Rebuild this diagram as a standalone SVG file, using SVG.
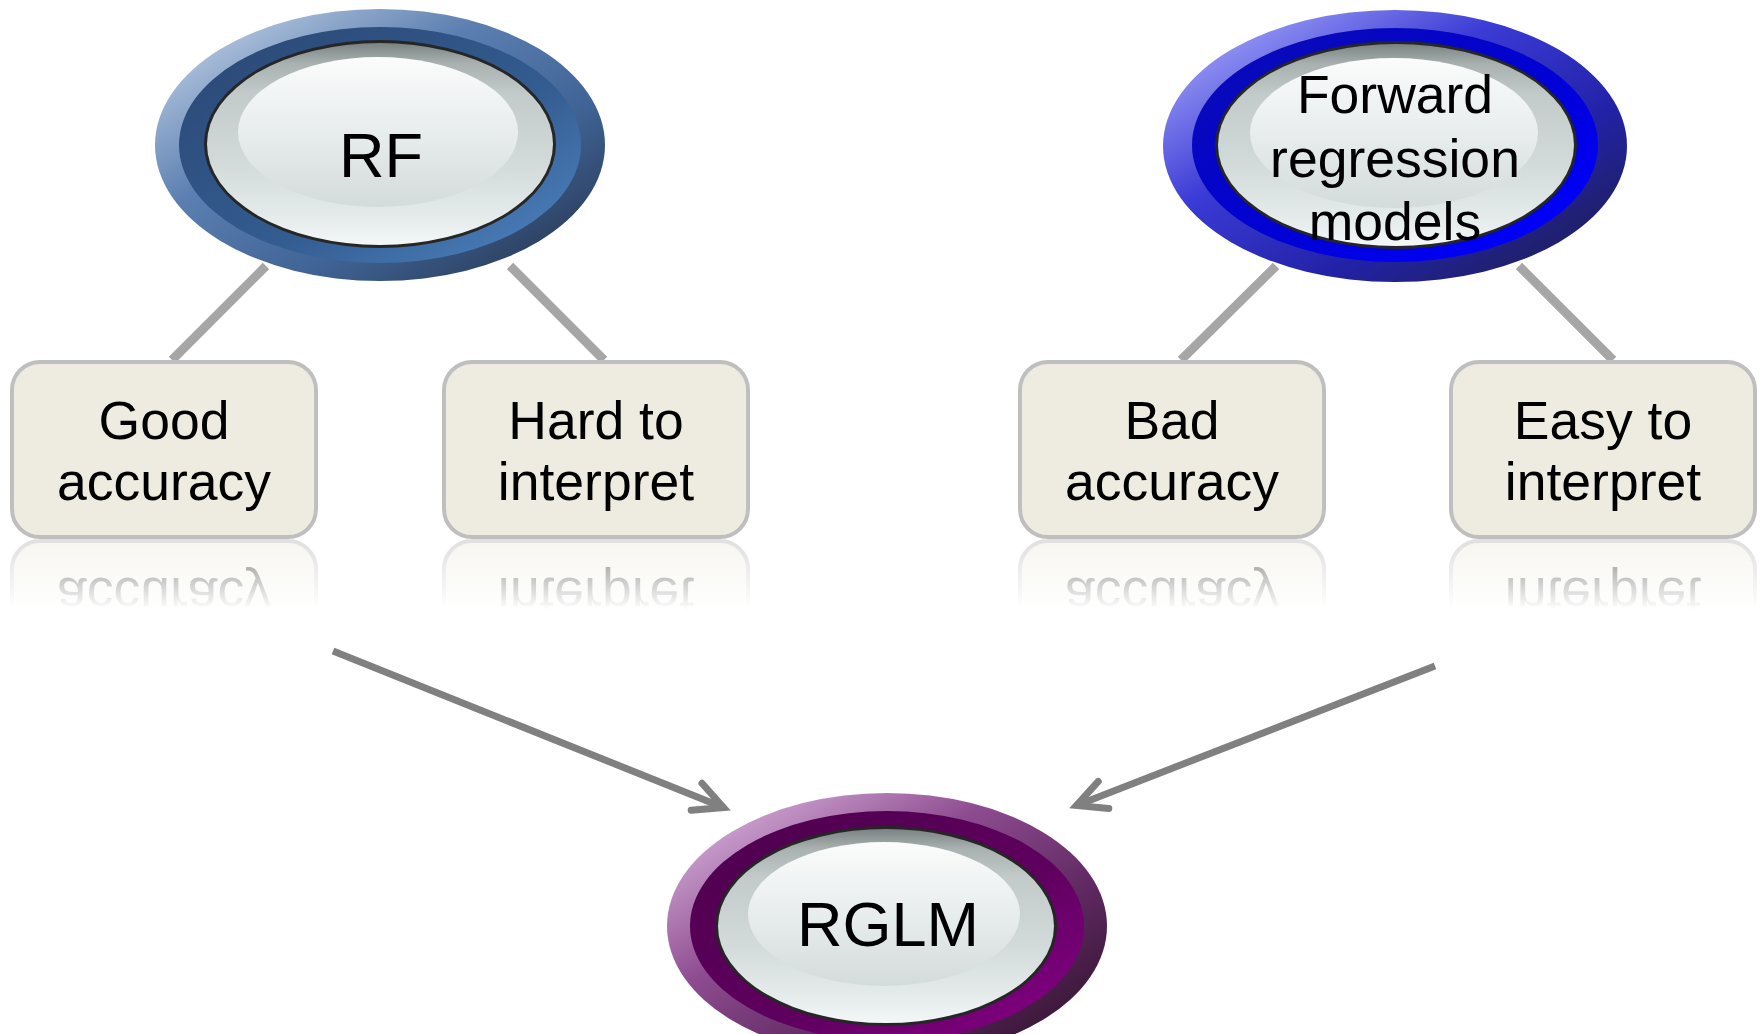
<svg xmlns="http://www.w3.org/2000/svg" xmlns:xlink="http://www.w3.org/1999/xlink" width="1763" height="1034" viewBox="0 0 1763 1034">
  <style>
    .label { font-family: "Liberation Sans", Arial, "DejaVu Sans", sans-serif; fill: #000; text-anchor: middle; }
    .big { font-size: 63px; }
    .mid { font-size: 53.5px; }
    .box rect { fill: #eeece1; stroke: #bfbfbf; stroke-width: 4; }
    .link { stroke: #a6a6a6; stroke-width: 9; fill: none; }
    .arrow { stroke: #808080; stroke-width: 7; fill: none; marker-end: url(#open); }
    .rim { fill: #262626; }
    .face { fill: url(#face); }
    .shine { fill: url(#shine); }
  </style>
  <defs>
    <!-- shared glossy face of the oval buttons -->
    <linearGradient id="face" x1="0" y1="0" x2="0" y2="1">
      <stop offset="0" stop-color="#7a8282"/>
      <stop offset="0.1" stop-color="#a9b0b0"/>
      <stop offset="0.25" stop-color="#c3caca"/>
      <stop offset="0.6" stop-color="#d3dada"/>
      <stop offset="0.9" stop-color="#e8eeee"/>
      <stop offset="1" stop-color="#f4f7f7"/>
    </linearGradient>
    <linearGradient id="shine" x1="0" y1="0" x2="0" y2="1">
      <stop offset="0" stop-color="#fbfcfc"/>
      <stop offset="0.55" stop-color="#e6ebeb"/>
      <stop offset="1" stop-color="#d4dbdb"/>
    </linearGradient>

    <!-- blue (RF) -->
    <linearGradient id="outerBlue" x1="0.1" y1="0.1" x2="0.9" y2="0.9">
      <stop offset="0" stop-color="#b4c6df"/>
      <stop offset="0.35" stop-color="#5b7fb0"/>
      <stop offset="0.7" stop-color="#3f6394"/>
      <stop offset="1" stop-color="#2b3d5c"/>
    </linearGradient>
    <linearGradient id="ringBlue" x1="0.1" y1="0.1" x2="0.9" y2="0.9">
      <stop offset="0" stop-color="#2c4a78"/>
      <stop offset="0.6" stop-color="#335c90"/>
      <stop offset="1" stop-color="#4a7cb8"/>
    </linearGradient>

    <!-- royal blue (forward regression) -->
    <linearGradient id="outerRoyal" x1="0.1" y1="0.1" x2="0.9" y2="0.9">
      <stop offset="0" stop-color="#9a9cf5"/>
      <stop offset="0.35" stop-color="#3b3bd6"/>
      <stop offset="0.7" stop-color="#2222a8"/>
      <stop offset="1" stop-color="#1f1f5e"/>
    </linearGradient>
    <linearGradient id="ringRoyal" x1="0.1" y1="0.1" x2="0.9" y2="0.9">
      <stop offset="0" stop-color="#0a0ab8"/>
      <stop offset="0.6" stop-color="#0000d8"/>
      <stop offset="1" stop-color="#0000ff"/>
    </linearGradient>

    <!-- purple (RGLM) -->
    <linearGradient id="outerPurple" x1="0.1" y1="0.1" x2="0.9" y2="0.9">
      <stop offset="0" stop-color="#d0a8d4"/>
      <stop offset="0.35" stop-color="#8e4c90"/>
      <stop offset="0.7" stop-color="#5e2860"/>
      <stop offset="1" stop-color="#361634"/>
    </linearGradient>
    <linearGradient id="ringPurple" x1="0.1" y1="0.1" x2="0.9" y2="0.9">
      <stop offset="0" stop-color="#500050"/>
      <stop offset="0.6" stop-color="#5f005f"/>
      <stop offset="1" stop-color="#800080"/>
    </linearGradient>

    <!-- fading mirror under the boxes -->
    <linearGradient id="fadeGrad" x1="0" y1="0" x2="0" y2="1">
      <stop offset="0" stop-color="#fff" stop-opacity="0.5"/>
      <stop offset="1" stop-color="#fff" stop-opacity="0"/>
    </linearGradient>
    <mask id="fade" maskUnits="userSpaceOnUse" x="0" y="535" width="1763" height="90">
      <rect x="0" y="539" width="1763" height="71" fill="url(#fadeGrad)"/>
    </mask>

    <marker id="open" markerUnits="userSpaceOnUse" orient="auto" refX="0" refY="0"
            viewBox="-40 -22 50 44" markerWidth="50" markerHeight="44" overflow="visible">
      <path d="M-29,-14.5 L0,0 L-29,14.5" fill="none" stroke="#808080" stroke-width="7"
            stroke-linecap="round" stroke-linejoin="miter"/>
    </marker>
  </defs>

  <rect width="1763" height="1034" fill="#fff"/>

  <!-- connectors -->
  <g id="connectors">
    <line class="link" x1="266" y1="266" x2="172" y2="360"/>
    <line class="link" x1="510" y1="266" x2="604" y2="360"/>
    <line class="link" x1="1276" y1="266" x2="1181" y2="360"/>
    <line class="link" x1="1519" y1="266" x2="1613" y2="360"/>
    <line class="arrow" x1="333" y1="651" x2="723.5" y2="807.5"/>
    <line class="arrow" x1="1435" y1="666" x2="1076.5" y2="805.5"/>
  </g>

  <!-- RF -->
  <g id="node-rf">
    <ellipse cx="380" cy="145" rx="225" ry="136" fill="url(#outerBlue)"/>
    <ellipse cx="380" cy="145" rx="201" ry="118" fill="url(#ringBlue)"/>
    <ellipse class="rim" cx="380" cy="144" rx="176" ry="104"/>
    <ellipse class="face" cx="380" cy="144" rx="173" ry="101"/>
    <ellipse class="shine" cx="378" cy="132" rx="140" ry="75"/>
    <text class="label big" x="381" y="177">RF</text>
  </g>

  <!-- Forward regression models -->
  <g id="node-forward">
    <ellipse cx="1395" cy="146" rx="232" ry="136" fill="url(#outerRoyal)"/>
    <ellipse cx="1395" cy="145" rx="203" ry="117" fill="url(#ringRoyal)"/>
    <ellipse class="rim" cx="1396" cy="145" rx="181" ry="104"/>
    <ellipse class="face" cx="1396" cy="145" rx="178" ry="101"/>
    <ellipse class="shine" cx="1394" cy="133" rx="144" ry="75"/>
    <text class="label mid" x="1395" y="113">Forward</text>
    <text class="label mid" x="1395" y="177">regression</text>
    <text class="label mid" x="1395" y="240">models</text>
  </g>

  <!-- RGLM -->
  <g id="node-rglm">
    <ellipse cx="887" cy="926" rx="220" ry="133" fill="url(#outerPurple)"/>
    <ellipse cx="887" cy="926" rx="197" ry="115" fill="url(#ringPurple)"/>
    <ellipse class="rim" cx="886" cy="926" rx="171" ry="100"/>
    <ellipse class="face" cx="886" cy="926" rx="168" ry="97"/>
    <ellipse class="shine" cx="884" cy="914" rx="136" ry="72"/>
    <text class="label big" x="888" y="946">RGLM</text>
  </g>

  <!-- property boxes -->
  <g id="box-good" class="box">
    <rect x="12" y="362" width="304" height="175" rx="28"/>
    <text class="label mid" x="164" y="439">Good</text>
    <text class="label mid" x="164" y="500">accuracy</text>
  </g>
  <g id="box-hard" class="box">
    <rect x="444" y="362" width="304" height="175" rx="28"/>
    <text class="label mid" x="596" y="439">Hard to</text>
    <text class="label mid" x="596" y="500">interpret</text>
  </g>
  <g id="box-bad" class="box">
    <rect x="1020" y="362" width="304" height="175" rx="28"/>
    <text class="label mid" x="1172" y="439">Bad</text>
    <text class="label mid" x="1172" y="500">accuracy</text>
  </g>
  <g id="box-easy" class="box">
    <rect x="1451" y="362" width="304" height="175" rx="28"/>
    <text class="label mid" x="1603" y="439">Easy to</text>
    <text class="label mid" x="1603" y="500">interpret</text>
  </g>

  <!-- mirrored boxes fading out below -->
  <g id="reflections" mask="url(#fade)">
    <use xlink:href="#box-good" href="#box-good" transform="matrix(1 0 0 -1 0 1078)"/>
    <use xlink:href="#box-hard" href="#box-hard" transform="matrix(1 0 0 -1 0 1078)"/>
    <use xlink:href="#box-bad" href="#box-bad" transform="matrix(1 0 0 -1 0 1078)"/>
    <use xlink:href="#box-easy" href="#box-easy" transform="matrix(1 0 0 -1 0 1078)"/>
  </g>
</svg>
